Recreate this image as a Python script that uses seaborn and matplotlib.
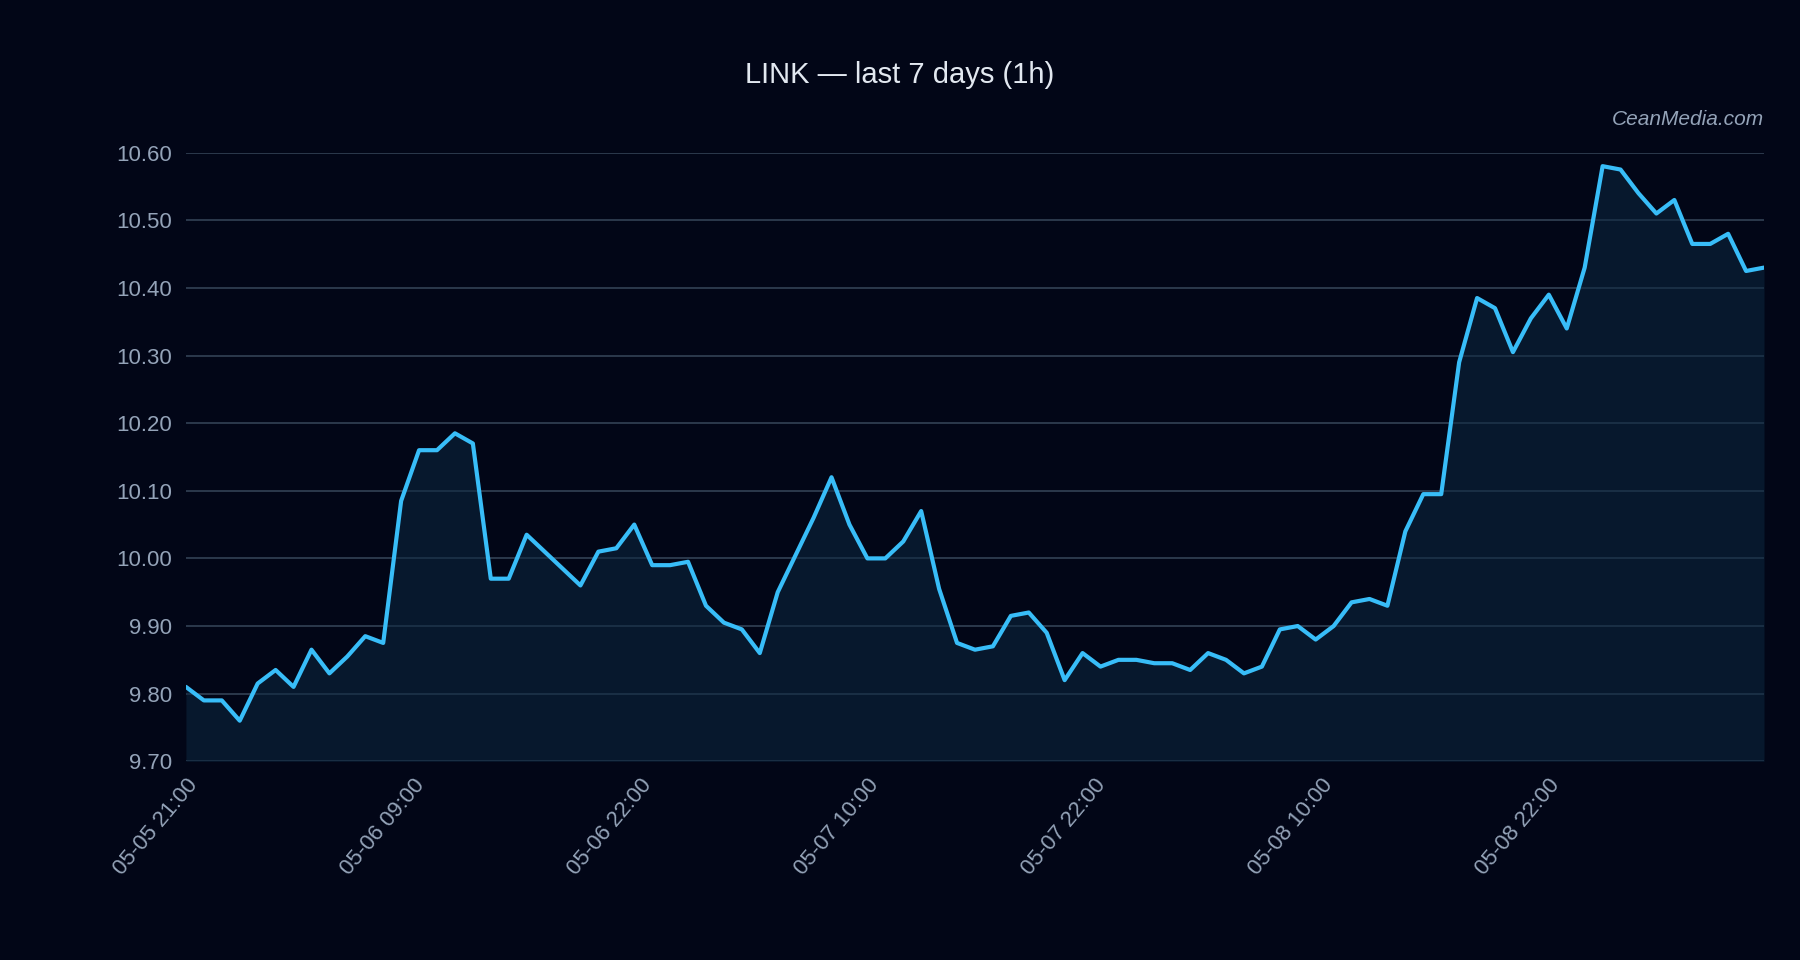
import numpy as np
import pandas as pd
import matplotlib
matplotlib.use("Agg")
import matplotlib.pyplot as plt
import seaborn as sns

# hourly closes
prices = [9.81, 9.79, 9.79, 9.76, 9.815, 9.835, 9.81, 9.865, 9.83, 9.855,
          9.885, 9.875, 10.085, 10.16, 10.16, 10.185, 10.17, 9.97, 9.97, 10.035,
          10.01, 9.985, 9.96, 10.01, 10.015, 10.05, 9.99, 9.99, 9.995, 9.93,
          9.905, 9.895, 9.86, 9.95, 10.005, 10.06, 10.12, 10.05, 10.0, 10.0,
          10.025, 10.07, 9.955, 9.875, 9.865, 9.87, 9.915, 9.92, 9.89, 9.82,
          9.86, 9.84, 9.85, 9.85, 9.845, 9.845, 9.835, 9.86, 9.85, 9.83,
          9.84, 9.895, 9.9, 9.88, 9.9, 9.935, 9.94, 9.93, 10.04, 10.095,
          10.095, 10.29, 10.385, 10.37, 10.305, 10.355, 10.39, 10.34, 10.43, 10.58,
          10.575, 10.54, 10.51, 10.53, 10.465, 10.465, 10.48, 10.425, 10.43]
tick_labels = ["05-05 21:00", "05-06 09:00", "05-06 22:00", "05-07 10:00",
               "05-07 22:00", "05-08 10:00", "05-08 22:00"]

df = pd.DataFrame({"i": np.arange(len(prices)), "price": prices})

bg = "#020617"
sns.set_style("dark")
plt.rcParams["font.family"] = ["Liberation Sans", "DejaVu Sans"]

fig = plt.figure(figsize=(18, 9.6), dpi=100, facecolor=bg)
ax = fig.add_axes([0.1033, 0.207, 0.8767, 0.634])
ax.set_facecolor(bg)

sns.lineplot(data=df, x="i", y="price", ax=ax, color="#38bdf8", linewidth=3)
ax.fill_between(df["i"], df["price"], 9.70, color="#0c2740", alpha=0.55, lw=0)

n = len(prices)
step = (n - 1) * 197.5 / 1373
ax.set_xticks([k * step for k in range(len(tick_labels))])
ax.set_xticklabels(tick_labels, rotation=50, ha="right", rotation_mode="anchor")
ax.set_xlim(0, n - 1)
ax.set_ylim(9.70, 10.60)
ax.set_yticks(np.arange(9.70, 10.61, 0.10))
ax.set_yticklabels([f"{v:.2f}" for v in np.arange(9.70, 10.61, 0.10)])
ax.tick_params(colors="#94a3b8", labelsize=16, length=0, pad=10)
ax.grid(axis="y", color="#334155", linewidth=1.2)
ax.grid(axis="x", visible=False)
for s in ax.spines.values():
    s.set_visible(False)
ax.set_xlabel("")
ax.set_ylabel("")

fig.text(0.5, 0.922, "LINK — last 7 days (1h)", ha="center", va="center",
         color="#e2e8f0", fontsize=21)
fig.text(0.98, 0.876, "CeanMedia.com", ha="right", va="center",
         color="#94a3b8", fontsize=15, style="italic")

fig.savefig("out.png", dpi=100, facecolor=bg)
